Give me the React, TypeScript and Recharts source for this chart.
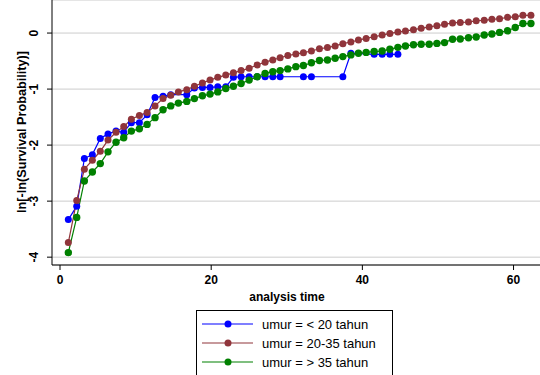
import React from 'react';
import { LineChart, Line, XAxis, YAxis, CartesianGrid, Legend, Label } from 'recharts';

// analysis time of each event
const times = [
  1.1, 2.21, 3.22, 4.28, 5.33, 6.35, 7.41, 8.43, 9.44, 10.5,
  11.52, 12.57, 13.63, 14.65, 15.66, 16.77, 17.78, 18.84, 19.85, 20.87,
  21.93, 22.94, 23.96, 25.02, 26.08, 27.13, 28.15, 29.12, 30.14, 31.2,
  32.2, 33.26, 34.32, 35.38, 36.4, 37.42, 38.48, 39.48, 40.5, 41.56,
  42.62, 43.64, 44.7, 45.7, 46.76, 47.78, 48.84, 49.86, 50.87, 51.93,
  52.95, 54.04, 55.06, 56.12, 57.14, 58.15, 59.21, 60.23, 61.24, 62.3,
];

const under20 = [
  -3.33, -3.09, -2.24, -2.17, -1.88, -1.8, -1.75, -1.77, -1.6, -1.6,
  -1.46, -1.15, -1.13, -1.1, null, -1.1, -0.98, -0.97, -0.97, -0.96,
  -0.96, -0.79, -0.78, -0.78, -0.78, -0.78, -0.78, -0.78, null, null,
  -0.78, -0.78, null, null, null, -0.78, -0.36, null, null, -0.38,
  -0.38, -0.38, -0.38, null, null, null, null, null, null, null,
  null, null, null, null, null, null, null, null, null, null,
];

const from20to35 = [
  -3.74, -2.99, -2.43, -2.27, -2.11, -1.91, -1.77, -1.67, -1.54, -1.47,
  -1.42, -1.3, -1.17, -1.11, -1.05, -1.01, -0.95, -0.89, -0.84, -0.79,
  -0.75, -0.71, -0.67, -0.63, -0.57, -0.52, -0.48, -0.44, -0.4, -0.375,
  -0.35, -0.32, -0.28, -0.26, -0.23, -0.19, -0.16, -0.125, -0.095, -0.066,
  -0.036, -0.006, 0.018, 0.036, 0.06, 0.084, 0.11, 0.13, 0.155, 0.18,
  0.19, 0.196, 0.22, 0.227, 0.245, 0.255, 0.28, 0.29, 0.316, 0.316,
];

const over35 = [
  -3.92, -3.29, -2.64, -2.48, -2.33, -2.12, -1.95, -1.87, -1.75, -1.71,
  -1.63, -1.51, -1.37, -1.3, -1.25, -1.22, -1.17, -1.12, -1.09, -1.05,
  -0.99, -0.95, -0.9, -0.84, -0.78, -0.72, -0.69, -0.67, -0.64, -0.6,
  -0.58, -0.53, -0.49, -0.48, -0.45, -0.42, -0.39, -0.36, -0.345, -0.33,
  -0.32, -0.29, -0.255, -0.23, -0.21, -0.2, -0.2, -0.185, -0.17, -0.11,
  -0.105, -0.083, -0.07, -0.036, -0.018, 0.012, 0.04, 0.1, 0.17, 0.17,
];

const xTicks = [0, 20, 40, 60];
const yTicks = [-4, -3, -2, -1, 0];

const data = times.map((t, i) => ({
  t,
  a: under20[i],
  b: from20to35[i],
  c: over35[i],
}));

const FONT = '"Liberation Sans", Arial, sans-serif';

const XTick = (props: any) => {
  const { x, y, payload } = props;
  return (
    <text x={x} y={y + 12} textAnchor="middle" fontFamily={FONT} fontSize={12} fontWeight="bold" fill="#000">
      {payload.value}
    </text>
  );
};

const YTick = (props: any) => {
  const { y, payload } = props;
  return (
    <text
      x={34}
      y={y}
      transform={`rotate(-90, 34, ${y})`}
      textAnchor="middle"
      dominantBaseline="central"
      fontFamily={FONT}
      fontSize={12}
      fontWeight="bold"
      fill="#000"
    >
      {payload.value}
    </text>
  );
};

const LegendBox = (props: any) => {
  const items = props.payload || [];
  return (
    <svg width={200} height={70} style={{ display: 'block' }}>
      <rect x={0.5} y={0.5} width={196} height={70} fill="#fff" stroke="#000" strokeWidth={1} />
      {items.map((it: any, i: number) => {
        const cy = 14 + i * 19;
        return (
          <g key={i}>
            <line x1={6} x2={57} y1={cy} y2={cy} stroke={it.color} strokeWidth={1.2} />
            <circle cx={32} cy={cy} r={3.5} fill={it.color} />
            <text x={66} y={cy} dominantBaseline="central" fontFamily={FONT} fontSize={13} fill="#000">
              {it.value}
            </text>
          </g>
        );
      })}
    </svg>
  );
};

export default function App() {
  return (
    <div style={{ position: 'absolute', left: 0, top: 0, width: 540, height: 375, background: '#fff', overflow: 'hidden' }}>
      <LineChart width={540} height={375} data={data} margin={{ top: 0, right: 0, bottom: 0, left: 0 }}>
        <CartesianGrid horizontal vertical={false} stroke="#cccccc" strokeWidth={1} />
        <XAxis
          dataKey="t"
          type="number"
          domain={[-1.06, 63.5]}
          ticks={xTicks}
          allowDataOverflow
          height={110}
          tickSize={5}
          axisLine={{ stroke: '#000' }}
          tickLine={{ stroke: '#000' }}
          tick={<XTick />}
        >
          <Label
            content={() => (
              <text x={287} y={301} textAnchor="middle" fontFamily={FONT} fontSize={12} fontWeight="bold" fill="#000">
                analysis time
              </text>
            )}
          />
        </XAxis>
        <YAxis
          type="number"
          domain={[-4.14, 0.59]}
          ticks={yTicks}
          allowDataOverflow
          width={52}
          tickSize={5}
          axisLine={{ stroke: '#000' }}
          tickLine={{ stroke: '#000' }}
          tick={<YTick />}
        >
          <Label
            content={() => (
              <text
                x={22}
                y={132}
                transform="rotate(-90, 22, 132)"
                textAnchor="middle"
                dominantBaseline="central"
                fontFamily={FONT}
                fontSize={12.7}
                fontWeight="bold"
                fill="#000"
              >
                ln[-ln(Survival Probability)]
              </text>
            )}
          />
        </YAxis>
        <Legend
          layout="horizontal"
          verticalAlign="middle"
          align="center"
          itemSorter="dataKey"
          wrapperStyle={{ left: 196, top: 310, width: 200, height: 70 }}
          content={<LegendBox />}
        />
        <Line name="umur = < 20 tahun" dataKey="a" stroke="#0000ff" strokeWidth={1.2} connectNulls
          dot={{ r: 3.5, fill: '#0000ff', stroke: '#0000ff', strokeWidth: 0 }} isAnimationActive={false} />
        <Line name="umur = 20-35 tahun" dataKey="b" stroke="#90353b" strokeWidth={1.2}
          dot={{ r: 3.5, fill: '#90353b', stroke: '#90353b', strokeWidth: 0 }} isAnimationActive={false} />
        <Line name="umur = > 35 tahun" dataKey="c" stroke="#008000" strokeWidth={1.2}
          dot={{ r: 3.7, fill: '#008000', stroke: '#008000', strokeWidth: 0 }} isAnimationActive={false} />
      </LineChart>
    </div>
  );
}
